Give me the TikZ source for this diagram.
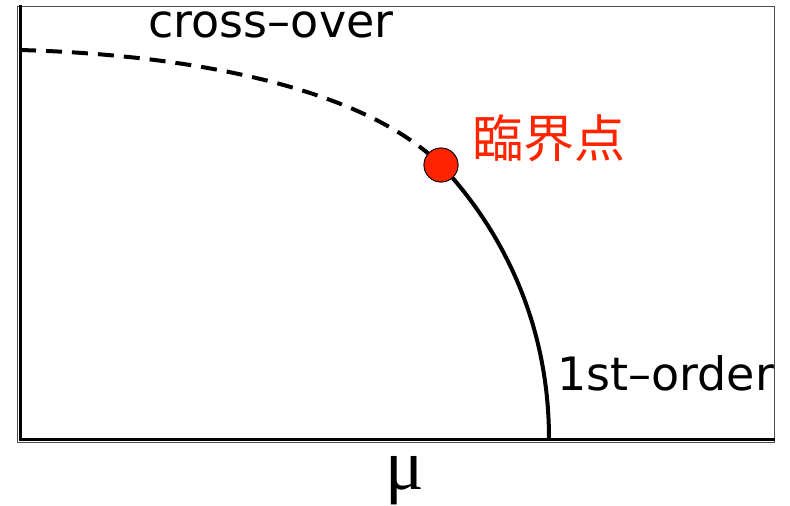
\documentclass[tikz,border=0pt]{standalone}
\usepackage{fontspec}
\setmainfont{DejaVu Sans}
\newfontfamily\cjk{Noto Sans CJK JP}
\newfontfamily\greekfont{Liberation Serif}
\definecolor{critred}{HTML}{FF2400}
\begin{document}
\begin{tikzpicture}[x=1pt,y=-1pt,
  axisline/.style={line width=3pt,line cap=rect},
  frameline/.style={line width=0.8pt,draw=black!70},
  curveline/.style={line width=4pt},
  dashline/.style={line width=4pt,dash pattern=on 16pt off 10pt},
  lbl/.style={font=\fontsize{46}{50}\selectfont,inner sep=0pt},
  critdot/.style={circle,fill=critred,draw=black,line width=0.8pt,minimum size=34pt,inner sep=0pt}]
\useasboundingbox (0,0) rectangle (790,506);
\fill[white] (0,0) rectangle (790,506);
% frame
\draw[frameline] (17,6) rectangle (774,442);
\coordinate (origin) at (20,439);
\coordinate (ytop) at (20,6);
\coordinate (xend) at (773,439);
\draw[axisline] (ytop) -- (origin) -- (xend);
% curve
\coordinate (cstart) at (20,50);
\coordinate (cend) at (549,439);
\node[critdot] (crit) at (441,165) {};
\draw[dashline] (cstart) .. controls (200,55) and (365,90) .. (crit.center);
\draw[curveline] (crit.center) .. controls (500,228) and (549,320) .. (cend);
\node[critdot] at (crit.center) {};
% labels
\node[lbl,anchor=base] (xo) at (271,37) {cross–over};
\node[lbl,anchor=base west] (fo) at (557,390) {1st–order};
\node[inner sep=0pt,anchor=base west,text=critred,font=\cjk\fontsize{51}{54}\selectfont] (cp) at (472,157) {臨界点};
\node[inner sep=0pt,anchor=base,font=\greekfont\fontsize{72}{76}\selectfont] (mu) at (405,489) {μ};
\end{tikzpicture}
\end{document}
